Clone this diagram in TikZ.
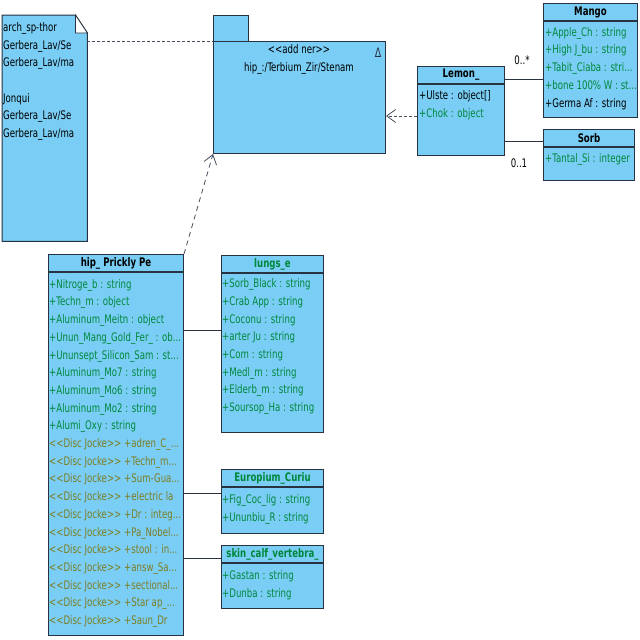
\documentclass[tikz,border=0pt]{standalone}
\usepackage{fontspec}
\setmainfont{DejaVu Sans Condensed}[FakeStretch=0.81]
\usetikzlibrary{arrows.meta,positioning,calc}
\definecolor{umlfill}{RGB}{122,206,245}
\definecolor{umlline}{RGB}{40,50,65}
\definecolor{umlgreen}{RGB}{0,135,60}
\definecolor{umlolive}{RGB}{125,125,35}
\tikzset{
  classhead/.style={draw=umlline, fill=umlfill, line width=1pt, anchor=north west, inner sep=0pt, minimum height=17pt, font=\bfseries\fontsize{11.8}{13}\selectfont},
  classbody/.style={draw=umlline, fill=umlfill, line width=1pt, anchor=north west, inner sep=0pt},
  attrs/.style={anchor=base west, align=left, inner sep=0pt, font=\fontsize{11.8}{17.7}\selectfont, text=umlgreen},
  assoc/.style={draw=umlline, line width=0.9pt},
  depend/.style={draw=umlline!85, line width=0.8pt, dash pattern=on 3pt off 2pt, -{Straight Barb[length=9pt,width=13pt]}},
  mult/.style={font=\fontsize{11.8}{13}\selectfont}
}
\begin{document}
\begin{tikzpicture}[x=1pt, y=-1pt]
\useasboundingbox (0,0) rectangle (640,640);
% note (left); attribute nodes sit on the baseline of their last line
\node[minimum width=85pt, minimum height=226pt, inner sep=0pt, anchor=north west] (note) at (2,15) {};
\draw[umlline, fill=umlfill, line width=1pt] (note.north west) -- ($(note.north east)+(-12,0)$) -- ($(note.north east)+(0,18)$) -- (note.south east) -- (note.south west) -- cycle;
\draw[umlline, fill=white, line width=0.8pt] ($(note.north east)+(-12,0)$) |- ($(note.north east)+(0,18)$) -- cycle;
\begin{scope}
\clip (note.north west) rectangle (note.south east);
\node[attrs, text=black] (notetext) at (3,137.5) {arch\_sp-thor\\Gerbera\_Lav/Se\\Gerbera\_Lav/ma\\~\\Jonqui\\Gerbera\_Lav/Se\\Gerbera\_Lav/ma};
\end{scope}
% package
\node[classbody, minimum width=35pt, minimum height=26pt] (pkgtab) at (213,15) {};
\node[classbody, minimum width=172pt, minimum height=112pt] (pkg) at (213,41) {};
\node[attrs, anchor=base, align=center, text=black] (pkgname) at (299,71.5) {<{}<add ner>{}>\\hip\_:/Terbium\_Zir/Stenam};
\node[font=\fontsize{13}{15}\selectfont, text=umlline, inner sep=0pt] (pkgicon) at (378,53) {Δ};
% Lemon_
\node[classhead, minimum width=87pt] (lemon) at (417,66) {Lemon\_};
\node[classbody, minimum width=87pt, minimum height=71pt] (lemonbody) at (lemon.south west) {};
\node[attrs] (lemonattr) at (419,117) {\color{black}+Ulste : object[]\\+Chok : object};
% Mango
\node[classhead, minimum width=94pt] (mango) at (543,3) {Mango};
\node[classbody, minimum width=94pt, minimum height=96pt] (mangobody) at (mango.south west) {};
\node[attrs] (mangoattr) at (545,107) {+Apple\_Ch : string\\+High J\_bu : string\\+Tabit\_Ciaba : stri...\\+bone 100\% W : st...\\\color{black}+Germa Af : string};
% Sorb
\node[classhead, minimum width=91pt] (sorb) at (543,129) {Sorb};
\node[classbody, minimum width=91pt, minimum height=33pt] (sorbbody) at (sorb.south west) {};
\node[attrs] (sorbattr) at (545,162) {+Tantal\_Si : integer};
% hip_ Prickly Pe
\node[classhead, minimum width=135pt] (hip) at (48,254) {hip\_ Prickly Pe};
\node[classbody, minimum width=135pt, minimum height=363pt] (hipbody) at (hip.south west) {};
\node[attrs] (hipattr) at (49,624.5) {+Nitroge\_b : string\\+Techn\_m : object\\+Aluminum\_Meitn : object\\+Unun\_Mang\_Gold\_Fer\_ : ob...\\+Ununsept\_Silicon\_Sam : st...\\+Aluminum\_Mo7 : string\\+Aluminum\_Mo6 : string\\+Aluminum\_Mo2 : string\\+Alumi\_Oxy : string\\
\color{umlolive}<{}<Disc Jocke>{}> +adren\_C\_...\\\color{umlolive}<{}<Disc Jocke>{}> +Techn\_m...\\\color{umlolive}<{}<Disc Jocke>{}> +Sum-Gua...\\\color{umlolive}<{}<Disc Jocke>{}> +electric la\\\color{umlolive}<{}<Disc Jocke>{}> +Dr : integ...\\\color{umlolive}<{}<Disc Jocke>{}> +Pa\_Nobel...\\\color{umlolive}<{}<Disc Jocke>{}> +stool : in...\\\color{umlolive}<{}<Disc Jocke>{}> +answ\_Sa...\\\color{umlolive}<{}<Disc Jocke>{}> +sectional...\\\color{umlolive}<{}<Disc Jocke>{}> +Star ap\_...\\\color{umlolive}<{}<Disc Jocke>{}> +Saun\_Dr};
% lungs_e
\node[classhead, minimum width=102pt, text=umlgreen] (lungs) at (221,255) {lungs\_e};
\node[classbody, minimum width=102pt, minimum height=159pt] (lungsbody) at (lungs.south west) {};
\node[attrs] (lungsattr) at (222,411.5) {+Sorb\_Black : string\\+Crab App : string\\+Coconu : string\\+arter Ju : string\\+Com : string\\+Medl\_m : string\\+Elderb\_m : string\\+Soursop\_Ha : string};
% Europium_Curiu
\node[classhead, minimum width=102pt, text=umlgreen] (europium) at (221,469) {Europium\_Curiu};
\node[classbody, minimum width=102pt, minimum height=46pt] (europiumbody) at (europium.south west) {};
\node[attrs] (europiumattr) at (222,521) {+Fig\_Coc\_lig : string\\+Ununbiu\_R : string};
% skin_calf_vertebra_
\node[classhead, minimum width=102pt, text=umlgreen] (skin) at (221,545) {skin\_calf\_vertebra\_};
\node[classbody, minimum width=102pt, minimum height=45pt] (skinbody) at (skin.south west) {};
\node[attrs] (skinattr) at (222,597) {+Gastan : string\\+Dunba : string};
% connectors
\draw[depend, -] (note.east |- pkg.north west) -- (pkg.north west);
\draw[depend] (lemonbody.west |- 0,116) -- (pkg.east |- 0,116);
\draw[depend, dash pattern=on 5pt off 4pt] (hip.north east) -- (pkg.south west);
\draw[assoc] (lemon.east |- 0,79) -- (mangobody.west |- 0,79);
\draw[assoc] (lemonbody.east |- 0,141) -- (sorb.west |- 0,141);
\draw[assoc] (hipbody.east |- 0,330) -- (lungsbody.west |- 0,330);
\draw[assoc] (hipbody.east |- 0,493) -- (europiumbody.west |- 0,493);
\draw[assoc] (hipbody.east |- 0,558) -- (skin.west |- 0,558);
\node[mult] (multmango) at (522,60) {0..*};
\node[mult] (multsorb) at (519,163) {0..1};
\end{tikzpicture}
\end{document}
